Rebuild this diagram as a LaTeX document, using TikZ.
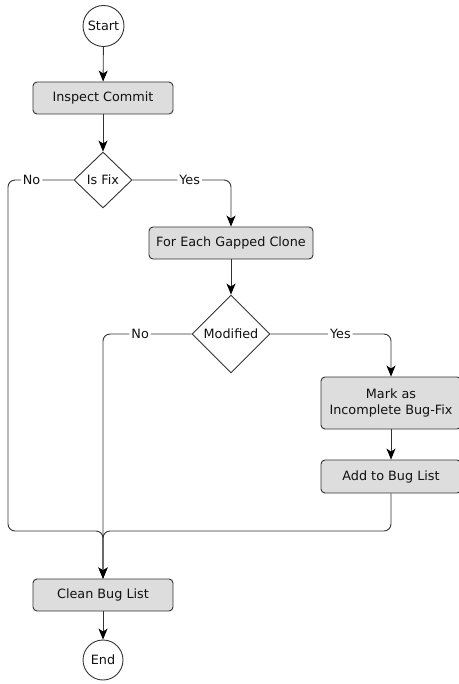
\documentclass[tikz,border=0pt]{standalone}
\usepackage{fontspec}
\setmainfont{DejaVu Sans}
\usetikzlibrary{shapes.geometric,arrows.meta}
\definecolor{linec}{HTML}{333333}
\definecolor{boxfill}{HTML}{DDDDDD}
\definecolor{textc}{HTML}{111111}
\begin{document}
\begin{tikzpicture}[x=1pt,y=-1pt,
  every node/.style={font=\fontsize{12.8pt}{15.5pt}\selectfont, text=textc},
  terminal/.style={circle, draw=linec, line width=0.9pt, fill=white, minimum size=41pt, inner sep=0pt},
  process/.style={rectangle, rounded corners=4pt, draw=linec, line width=0.9pt, fill=boxfill,
                  minimum width=140pt, minimum height=32pt, align=center, inner sep=2pt},
  decision/.style={diamond, draw=linec, line width=0.9pt, fill=white, inner sep=0pt},
  flow/.style={draw=linec, line width=0.9pt, rounded corners=7pt,
               -{Stealth[length=11pt,width=9pt,inset=3pt,black]}},
  lbl/.style={fill=white, inner xsep=2pt, inner ysep=1pt}
]
\useasboundingbox (0,0) rectangle (458,684);

% nodes
\node[terminal] (start) at (103.5,26) {Start};
\node[process] (inspect) at (103,98) {Inspect Commit};
\node[decision, minimum width=58pt, minimum height=56pt] (isfix) at (103,180) {Is Fix};
\node[process, minimum width=164pt] (gapped) at (231,243) {For Each Gapped Clone};
\node[decision, minimum width=78pt, minimum height=78pt] (modified) at (231,334) {Modified};
\node[process, minimum height=52pt] (mark) at (391,403) {Mark as\\Incomplete Bug-Fix};
\node[process, minimum height=33pt] (addlist) at (391,476.5) {Add to Bug List};
\node[process] (clean) at (103,595) {Clean Bug List};
\node[terminal, minimum size=40pt] (end) at (103,660) {End};

% routing points
\coordinate (leftrail) at (8,531);
\coordinate (joinpt) at (103,531);

% connectors
\draw[flow] (start) -- (inspect);
\draw[flow] (inspect) -- (isfix);
\draw[flow] (isfix.east) -- node[lbl, pos=0.58] {Yes} (isfix.east -| gapped.north) -- (gapped.north);
\draw[flow] (isfix.west) -- node[lbl, pos=0.64] {No} (isfix.west -| leftrail) -- (leftrail) -- (joinpt) -- (clean.north);
\draw[flow] (gapped) -- (modified);
\draw[flow] (modified.east) -- node[lbl, pos=0.58] {Yes} (modified.east -| mark.north) -- (mark.north);
\draw[flow] (modified.west) -- node[lbl, pos=0.58] {No} (modified.west -| joinpt) -- (clean.north);
\draw[flow] (mark) -- (addlist);
\draw[flow] (addlist.south) -- (addlist.south |- joinpt) -- (joinpt) -- (clean.north);
\draw[flow] (clean) -- (end);
\end{tikzpicture}
\end{document}
